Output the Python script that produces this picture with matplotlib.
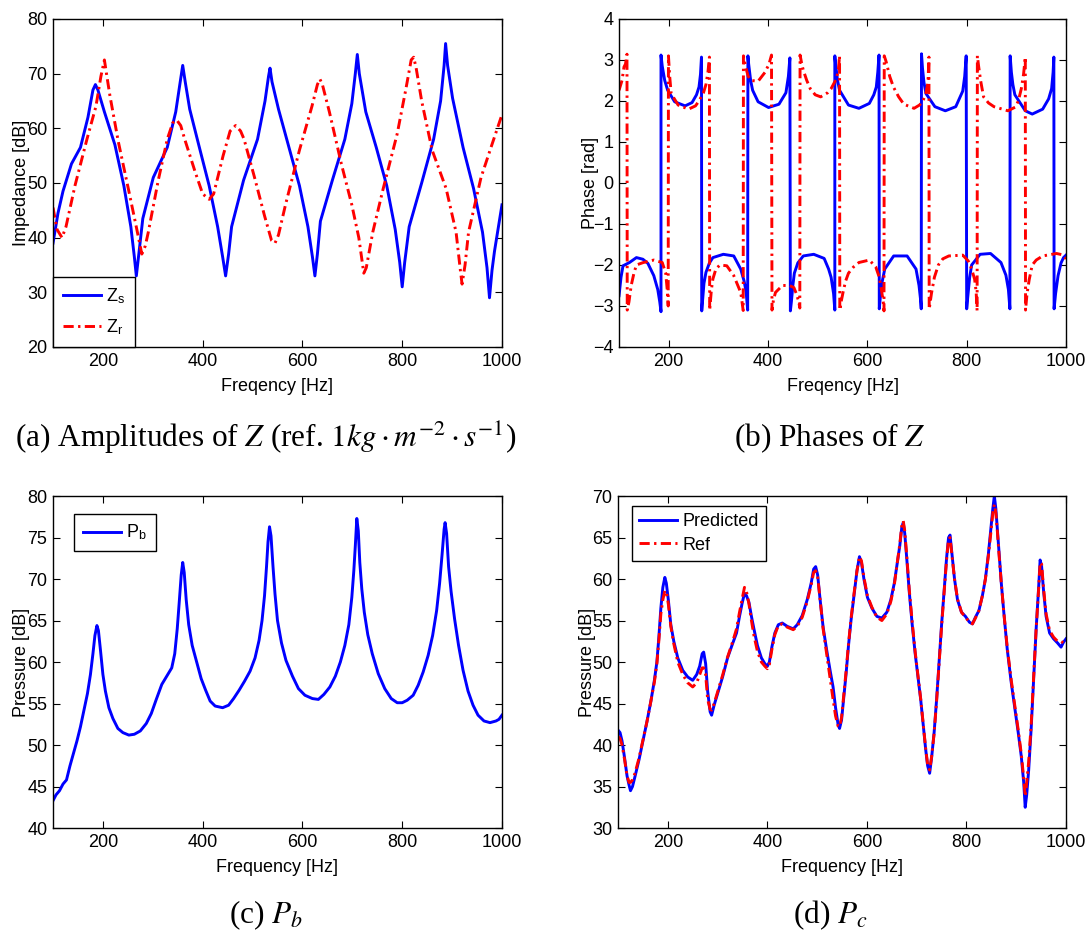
import matplotlib
matplotlib.use("Agg")
import matplotlib.pyplot as plt

plt.rcParams["font.family"] = ["Liberation Sans", "DejaVu Sans"]
plt.rcParams["mathtext.fontset"] = "stix"
plt.rcParams["axes.unicode_minus"] = True

# (a) impedance amplitudes [dB]
zs_freq = [100, 110, 120, 137, 155, 170, 180, 185, 190, 203, 224, 242, 256, 263, 267, 272, 280,
           301, 329, 346, 355, 360, 365, 374, 392, 413, 430, 440, 446, 452, 458, 482, 510, 525,
           532, 535, 539, 552, 573, 594, 611, 620, 625, 630, 636, 660, 685, 699, 706, 710, 714,
           727, 748, 769, 786, 795, 800, 805, 814, 839, 863, 877, 884, 887, 891, 901, 922, 943,
           961, 970, 975, 980, 985, 1000]
zs_amp = [39, 44.5, 48.5, 53.5, 56.5, 62, 67, 68, 67, 63, 57, 49.5, 42, 36.5, 33, 37, 43.5,
          51, 56.5, 63, 68.5, 71.5, 68.5, 63.5, 57, 49.5, 42, 36.5, 33, 37, 42, 50.5, 58, 65,
          69.5, 71, 68.5, 63.5, 56.5, 49.5, 42, 36.5, 33, 37, 43, 50.5, 58, 64.5, 70, 73.5, 70,
          63, 56.5, 49.5, 41.5, 35.5, 31, 35.5, 42, 50, 58, 65, 71.5, 75.5, 71.5, 65.5, 56.5, 49,
          41, 34.5, 29, 34, 37.5, 46]

zr_freq = [100, 108, 118, 126, 144, 168, 186, 196, 203, 208, 214, 231, 252, 268, 278, 285, 291,
           311, 329, 340, 348, 356, 364, 385, 400, 413, 422, 441, 455, 466, 476, 483, 504, 524,
           538, 545, 552, 566, 594, 619, 630, 635, 640, 654, 678, 699, 713, 723, 728, 741, 762,
           790, 807, 818, 823, 828, 839, 860, 888, 908, 916, 920, 926, 933, 958, 978, 1000]
zr_amp = [45.5, 41.5, 40, 42, 49.5, 58, 64, 69.5, 72.5, 69.5, 66, 57.5, 48.5, 41.5, 37, 38.5, 41,
          50.5, 58, 61, 61.5, 60.5, 58, 52, 48, 47, 48, 55, 59.5, 60.5, 59.5, 58, 51, 44,
          39.5, 39, 40.5, 46, 56, 64, 68, 69, 68, 63, 53.5, 46, 40, 33.5, 34.5, 41, 49,
          59, 67, 72.5, 73, 71, 65, 56, 49, 41, 34.5, 31.5, 35, 41, 51, 56.5, 62.5]

# (b) impedance phases [rad]
zs_ph_freq = [100, 104, 108, 121, 135, 148, 158, 170, 178, 182, 184.5, 184.5, 187, 192, 198, 212,
              233, 247, 256, 261, 264, 266, 266.5, 268, 271, 275, 282, 289, 310, 331, 345, 352,
              356, 359, 359.5, 361, 365, 369, 380, 401, 422, 436, 441, 444, 445, 447, 450, 453,
              460, 471, 492, 513, 522, 527, 532, 534.5, 534.5, 536, 540, 544, 562, 583, 604, 613,
              618, 621, 623.5, 624, 626, 630, 635, 653, 680, 698, 704, 707, 708.5, 709, 711, 714,
              718, 736, 757, 778, 792, 796, 799, 800, 802, 806, 810, 827, 848, 869, 879, 884,
              887, 887.5, 890, 893, 897, 918, 932, 953, 965, 971, 974, 975.5, 976, 979, 984,
              990, 995, 1000]
zs_phase = [-2.75, -2.3, -2.02, -1.94, -1.82, -1.86, -1.96, -2.26, -2.6, -2.9, -3.14, 3.12, 2.85,
            2.5, 2.26, 1.98, 1.88, 1.96, 2.15, 2.34, 2.65, 3.07, -3.12, -2.9, -2.45, -2.18, -1.95,
            -1.82, -1.74, -1.78, -2.1, -2.4, -2.67, -3.1, 3.1, 2.9, 2.5, 2.26, 1.98, 1.84, 1.92,
            2.2, 2.6, 3.05, -3.12, -2.9, -2.5, -2.2, -1.95, -1.78, -1.74, -1.84, -2.1, -2.3, -2.7,
            -3.1, 3.1, 2.9, 2.5, 2.26, 1.9, 1.82, 1.94, 2.15, 2.34, 2.7, 3.12, -3.07, -2.8, -2.4,
            -2.1, -1.78, -1.78, -2.1, -2.5, -2.83, -3.07, 3.15, 2.8, 2.45, 2.18, 1.86, 1.76, 1.86,
            2.24, 2.6, 3.1, -3.07, -2.8, -2.3, -2.0, -1.74, -1.72, -1.94, -2.25, -2.6, -3.07, 3.1,
            2.7, 2.4, 2.15, 1.76, 1.68, 1.8, 2.05, 2.3, 2.7, 3.07, -3.07, -2.7, -2.26, -1.95,
            -1.82, -1.76]

zr_ph_freq = [100, 106, 110, 113, 116, 116.5, 120, 124.5, 130, 135, 149, 170, 187, 194, 197, 199,
              199.5, 202, 205, 219, 240, 254, 261, 270, 275, 279, 282, 282.5, 286, 289, 295, 303,
              317, 331, 345, 350, 350.5, 355, 360, 366, 380, 394, 402, 407, 408, 411, 415, 429,
              443, 452, 457, 462, 464, 464.5, 468, 471, 478, 485, 495, 506, 520, 527, 538, 542,
              544, 544.5, 548, 551, 556, 562, 572, 583, 604, 617, 624, 628, 632, 633.5, 634, 638,
              645, 652.5, 663, 673.5, 694, 705, 712, 718, 722, 724, 724.5, 729, 735, 743, 752,
              764, 792, 803, 810, 816, 819, 821, 821.5, 824, 828, 834, 844, 855, 883, 898, 904,
              910, 914.5, 918, 918.5, 921.5, 926, 932, 940, 953, 981, 992, 1000]
zr_phase = [2.26, 2.5, 2.83, 2.9, 3.14, -3.1, -2.9, -2.5, -2.2, -2.0, -1.94, -1.88, -1.94, -2.2,
            -2.6, -3.0, 3.1, 2.6, 2.18, 1.9, 1.8, 1.88, 2.0, 2.2, 2.4, 2.7, 3.07, -3.1, -2.6,
            -2.34, -2.1, -2.0, -2.02, -2.26, -2.67, -3.11, 3.1, 2.83, 2.6, 2.5, 2.48, 2.7, 2.9,
            3.12, -3.1, -2.85, -2.67, -2.5, -2.5, -2.55, -2.7, -2.9, -3.05, 3.12, 2.9, 2.75, 2.5,
            2.3, 2.15, 2.1, 2.2, 2.3, 2.55, 2.8, 3.1, -3.1, -2.85, -2.67, -2.4, -2.2, -2.05,
            -1.94, -1.88, -2.05, -2.3, -2.58, -2.9, -3.12, 3.1, 2.95, 2.6, 2.34, 2.1, 1.92, 1.82,
            1.9, 2.0, 2.2, 2.45, 3.07, -3.08, -2.7, -2.3, -2.0, -1.85, -1.78, -1.76, -1.9, -2.1,
            -2.35, -2.65, -3.12, 3.1, 2.85, 2.5, 2.1, 1.95, 1.86, 1.76, 1.85, 2.0, 2.3, 2.65,
            3.07, -3.1, -2.7, -2.35, -2.0, -1.88, -1.78, -1.72, -1.75, -1.85]

# (c) pressure P_b [dB]
pb_freq = [100, 106, 113, 120, 127, 134, 141, 148, 155, 162, 169, 175, 180, 184, 188, 191, 195,
           200, 205, 212, 220, 230, 240, 252, 263, 275, 287, 297, 307, 318, 330, 338, 344, 349,
           353, 357, 360, 363, 367, 372, 379, 388, 397, 406, 415, 425, 440, 452, 462, 473, 484,
           495, 505, 513, 519, 524, 528, 531, 534, 537, 541, 545, 550, 558, 567, 580, 592, 605,
           620, 632, 643, 655, 666, 676, 685, 693, 699, 703, 706, 709, 712, 715, 719, 724, 731,
           740, 752, 765, 778, 790, 800, 810, 822, 832, 842, 852, 861, 869, 875, 880, 884, 886,
           889, 893, 898, 905, 913, 922, 932, 942, 952, 964, 976, 988, 994, 1000]
pb_level = [43.3, 44.0, 44.5, 45.3, 45.8, 47.5, 49.0, 50.5, 52.2, 54.2, 56.2, 58.5, 61.0, 63.2,
            64.4, 63.8, 61.5, 58.5, 56.5, 54.5, 53.2, 52.0, 51.5, 51.2, 51.3, 51.7, 52.6, 53.8,
            55.5, 57.3, 58.5, 59.3, 61.0, 64.0, 67.2, 70.5, 72.0, 70.8, 67.5, 64.5, 62.0, 60.0,
            58.0, 56.6, 55.3, 54.7, 54.5, 54.8, 55.6, 56.6, 57.7, 58.9, 60.5, 62.6, 65.0, 68.0,
            71.5, 74.5, 76.3, 75.2, 71.5, 68.2, 65.0, 62.3, 60.2, 58.3, 56.8, 56.0, 55.6, 55.5,
            56.1, 57.0, 58.3, 60.0, 62.0, 64.5, 67.8, 71.0, 74.0, 77.3, 75.8, 72.0, 68.8, 66.0,
            63.3, 61.0, 58.6, 56.8, 55.6, 55.1, 55.1, 55.4, 56.0, 57.2, 58.8, 60.8, 63.2, 66.2,
            69.5, 73.0, 76.0, 76.8, 75.5, 71.5, 68.5, 65.2, 62.0, 59.0, 56.5, 54.8, 53.6, 52.9,
            52.7, 52.9, 53.1, 53.6]

# (d) pressure P_c [dB], predicted vs reference
pc_freq = [100, 104, 108, 113, 118, 122, 125, 129, 134, 142, 150, 158, 166, 173, 178, 182, 186,
           190, 194, 197, 201, 206, 212, 220, 230, 240, 250, 258, 264, 269, 272, 276, 280, 285,
           288, 293, 300, 310, 320, 330, 338, 344, 349, 354, 358, 363, 368, 373, 380, 388, 395,
           400, 404, 409, 415, 422, 430, 440, 452, 460, 470, 480, 488, 493, 497, 501, 506, 512,
           519, 526, 532, 537, 542, 545, 549, 553, 558, 563, 568, 574, 580, 585, 589, 594, 601,
           610, 620, 630, 640, 648, 655, 661, 666, 670, 673, 676, 680, 685, 691, 697, 703, 708,
           713, 718, 722, 726, 730, 735, 740, 745, 750, 755, 760, 764, 767, 771, 776, 782, 790,
           798, 806, 812, 818, 825, 832, 838, 844, 849, 853, 856, 859, 862, 866, 870, 875, 882,
           890, 897, 904, 910, 915, 918, 921, 925, 930, 935, 940, 945, 948, 951, 955, 960, 967,
           975, 983, 990, 995, 1000]
pc_predicted = [41.8, 41.5, 40.5, 38.5, 36.3, 35.2, 34.5, 35.0, 36.2, 38.2, 40.5, 42.8, 45.3,
                47.8, 50.0, 53.0, 56.5, 59.0, 60.2, 59.5, 57.5, 54.5, 52.5, 50.5, 49.0, 48.2,
                47.8, 48.5, 49.5, 51.0, 51.2, 49.8, 46.5, 44.0, 43.6, 44.8, 46.2, 48.2, 50.5,
                52.2, 53.5, 55.5, 57.0, 58.3, 58.0, 57.2, 55.5, 54.0, 52.0, 50.5, 49.8, 49.5,
                50.0, 51.8, 53.5, 54.5, 54.7, 54.3, 54.0, 54.5, 55.6, 57.5, 59.5, 61.2, 61.5,
                60.5, 57.5, 54.2, 51.5, 49.0, 47.0, 44.5, 42.5, 42.0, 43.0, 45.5, 48.5, 52.0,
                55.0, 58.0, 61.0, 62.7, 62.0, 60.0, 57.8, 56.5, 55.5, 55.3, 56.0, 57.5, 59.5,
                62.0, 64.0, 66.2, 66.8, 65.5, 62.5, 58.5, 54.5, 51.0, 48.0, 45.5, 42.5, 39.5,
                37.5, 36.6, 38.5, 41.5, 45.5, 50.0, 54.5, 58.5, 62.5, 65.0, 65.3, 63.0, 60.0,
                57.5, 56.0, 55.5, 54.8, 54.6, 55.4, 56.2, 58.0, 60.0, 63.0, 66.0, 68.5, 70.0,
                68.5, 66.0, 62.5, 59.5, 56.0, 51.5, 47.5, 44.5, 41.5, 38.7, 35.5, 32.5, 34.0,
                37.0, 42.0, 48.0, 54.0, 59.0, 62.3, 61.5, 58.5, 55.5, 53.5, 52.8, 52.3, 51.8,
                52.4, 52.8]
pc_ref = [41.0, 40.8, 40.0, 38.3, 36.3, 35.5, 35.5, 35.8, 36.6, 38.4, 40.6, 42.8, 45.3,
          47.6, 49.8, 52.6, 55.8, 57.5, 58.6, 58.5, 57.0, 54.3, 52.2, 50.0, 48.5, 47.5,
          47.0, 47.5, 48.5, 49.3, 49.3, 48.5, 45.5, 44.3, 44.2, 45.0, 46.4, 48.4, 50.6,
          52.4, 54.0, 56.0, 57.5, 59.0, 58.5, 57.0, 55.0, 53.2, 51.3, 50.0, 49.5, 49.2,
          49.7, 51.5, 53.3, 54.4, 54.6, 54.2, 53.9, 54.3, 55.4, 57.3, 59.3, 60.8, 61.0,
          60.3, 57.5, 54.0, 51.0, 48.0, 45.5, 43.5, 42.3, 42.2, 43.3, 45.8, 48.8, 52.2,
          55.2, 58.2, 61.0, 62.7, 62.2, 60.2, 58.0, 56.6, 55.4, 55.0, 55.8, 57.3, 59.3,
          62.0, 64.2, 66.4, 67.0, 65.8, 62.8, 58.8, 54.8, 51.2, 48.2, 45.6, 42.6, 39.6,
          37.6, 37.0, 38.6, 41.4, 45.3, 49.8, 54.3, 58.3, 62.3, 64.8, 65.0, 62.8, 60.0,
          57.6, 56.0, 55.4, 54.8, 54.6, 55.3, 56.2, 58.0, 60.0, 62.8, 65.6, 68.0, 69.0,
          68.0, 65.8, 62.5, 59.5, 56.0, 51.7, 47.8, 44.8, 41.8, 39.0, 36.0, 33.8, 35.5,
          38.0, 42.5, 48.2, 54.0, 58.8, 62.0, 61.8, 58.8, 55.8, 53.8, 53.0, 52.5, 52.5,
          52.3, 52.6]

BLUE = "#0000ff"
RED = "#ff0000"
DASHDOT = (0, (3.5, 1.5, 0.8, 1.5))
LW = 2.1

fig = plt.figure(figsize=(10.91, 9.33), dpi=100)
ax_a = fig.add_axes([0.0486, 0.6281, 0.4115, 0.3516])
ax_b = fig.add_axes([0.5674, 0.6281, 0.4097, 0.3516])
ax_c = fig.add_axes([0.0486, 0.1125, 0.4115, 0.3558])
ax_d = fig.add_axes([0.5665, 0.1125, 0.4106, 0.3558])


def style_axes(ax, ylim, yticks, xlabel, ylabel, ylabel_x):
    ax.set_xlim(100, 1000)
    ax.set_ylim(*ylim)
    ax.set_xticks([200, 400, 600, 800, 1000])
    ax.set_yticks(yticks)
    ax.tick_params(direction="in", top=True, right=True, length=5, width=0.8,
                   labelsize=13, pad=4)
    for sp in ax.spines.values():
        sp.set_linewidth(1.0)
    ax.set_xlabel(xlabel, fontsize=13, labelpad=6)
    ax.set_ylabel(ylabel, fontsize=13)
    ax.yaxis.set_label_coords(ylabel_x, 0.5)


# (a)
ax_a.plot(zs_freq, zs_amp, color=BLUE, lw=LW, label="Z$_\\mathregular{s}$")
ax_a.plot(zr_freq, zr_amp, color=RED, lw=LW, linestyle=DASHDOT, label="Z$_\\mathregular{r}$")
style_axes(ax_a, (20, 80), range(20, 81, 10), "Freqency [Hz]", "Impedance [dB]", -0.052)
leg = ax_a.legend(loc="lower left", borderaxespad=0, fontsize=13, handlelength=2.1,
                  fancybox=False, framealpha=1, edgecolor="black", borderpad=0.55,
                  labelspacing=0.65, handletextpad=0.3)
leg.get_frame().set_linewidth(1.0)

# (b)
ax_b.plot(zs_ph_freq, zs_phase, color=BLUE, lw=LW)
ax_b.plot(zr_ph_freq, zr_phase, color=RED, lw=LW, linestyle=DASHDOT)
style_axes(ax_b, (-4, 4), range(-4, 5), "Freqency [Hz]", "Phase [rad]", -0.045)

# (c)
ax_c.plot(pb_freq, pb_level, color=BLUE, lw=LW, label="P$_\\mathregular{b}$")
style_axes(ax_c, (40, 80), range(40, 81, 5), "Frequency [Hz]", "Pressure [dB]", -0.052)
leg = ax_c.legend(loc="upper left", bbox_to_anchor=(0.047, 0.946), borderaxespad=0,
                  fontsize=13, handlelength=2.1, fancybox=False, framealpha=1,
                  edgecolor="black", borderpad=0.5, handletextpad=0.3)
leg.get_frame().set_linewidth(1.0)

# (d)
ax_d.plot(pc_freq, pc_predicted, color=BLUE, lw=LW, label="Predicted")
ax_d.plot(pc_freq, pc_ref, color=RED, lw=LW, linestyle=DASHDOT, label="Ref")
style_axes(ax_d, (30, 70), range(30, 71, 5), "Frequency [Hz]", "Pressure [dB]", -0.05)
leg = ax_d.legend(loc="upper left", bbox_to_anchor=(0.031, 0.97), borderaxespad=0,
                  fontsize=13, handlelength=2.1, fancybox=False, framealpha=1,
                  edgecolor="black", borderpad=0.4, labelspacing=0.35, handletextpad=0.3)
leg.get_frame().set_linewidth(1.0)

# sub-captions
cap = dict(ha="center", va="center", fontsize=22.5, family="Liberation Serif")
fig.text(0.2438, 0.5305, "(a) Amplitudes of $Z$ (ref. $1kg\\cdot m^{-2}\\cdot s^{-1}$)", **cap)
fig.text(0.7608, 0.5305, "(b) Phases of $Z$", **cap)
fig.text(0.2438, 0.019, "(c) $P_b$", **cap)
fig.text(0.7608, 0.019, "(d) $P_c$", **cap)

fig.savefig("out.png", dpi=100)
